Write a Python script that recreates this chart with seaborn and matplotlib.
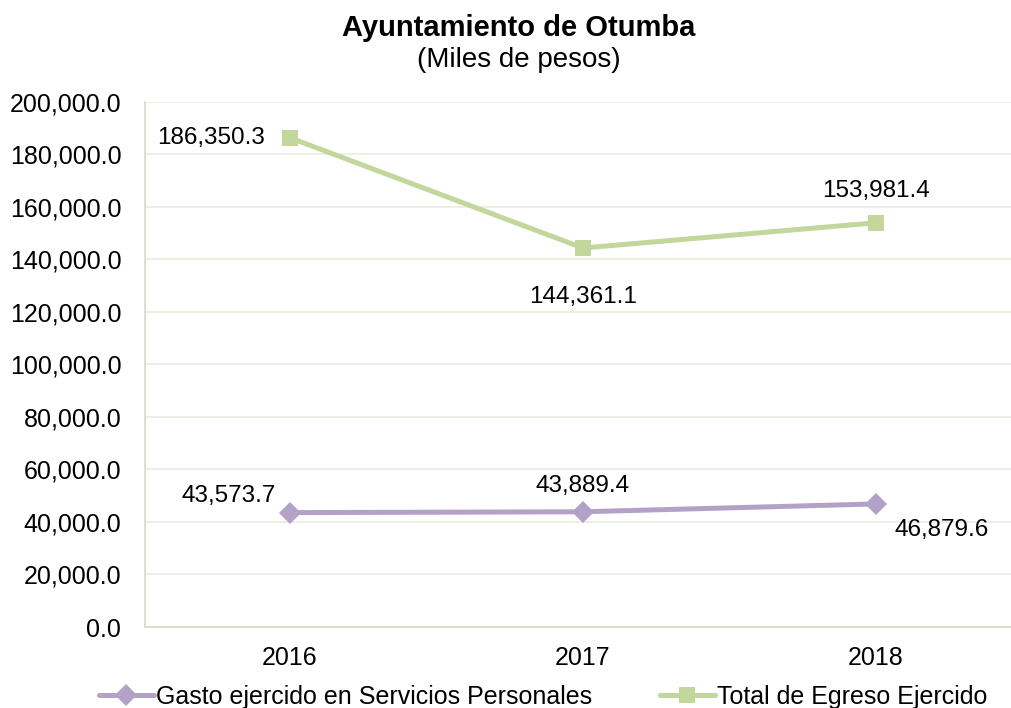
import matplotlib
matplotlib.use("Agg")
import matplotlib.pyplot as plt
import seaborn as sns
import pandas as pd
from matplotlib.ticker import FuncFormatter

years = ["2016", "2017", "2018"]
gasto = [43573.7, 43889.4, 46879.6]
total = [186350.3, 144361.1, 153981.4]
series_names = ["Gasto ejercido en Servicios Personales", "Total de Egreso Ejercido"]

sns.set_theme(style="white")
plt.rcParams['font.family'] = ['Liberation Sans', 'DejaVu Sans']
plt.rcParams['text.color'] = 'black'

fig = plt.figure(figsize=(10.11, 7.08), dpi=100)
ax = fig.add_axes([0.1434, 0.1144, 0.8566, 0.7416])

purple = "#b3a2c7"
green = "#c3d69b"

df = pd.DataFrame({"Año": years * 2,
                   "Valor": gasto + total,
                   "Serie": [series_names[0]] * 3 + [series_names[1]] * 3})

sns.lineplot(data=df[df["Serie"] == series_names[0]], x="Año", y="Valor", ax=ax,
             color=purple, lw=3.6, marker="D", markersize=11, markeredgewidth=0,
             label=series_names[0], sort=False)
sns.lineplot(data=df[df["Serie"] == series_names[1]], x="Año", y="Valor", ax=ax,
             color=green, lw=3.6, marker="s", markersize=12, markeredgewidth=0,
             label=series_names[1], sort=False)

ax.set_ylim(0, 200000)
ax.set_yticks(range(0, 200001, 20000))
ax.yaxis.set_major_formatter(FuncFormatter(lambda v, p: f"{v:,.1f}"))
ax.set_xlim(-0.495, 2.461)
ax.grid(axis="y", color="#ecebdf", lw=1.2)
ax.set_axisbelow(True)
for s in ["top", "right"]:
    ax.spines[s].set_visible(False)
for s in ["left", "bottom"]:
    ax.spines[s].set_color("#d9d9cc")
    ax.spines[s].set_linewidth(1.2)
ax.tick_params(axis="both", labelsize=18, colors="black", length=0)
ax.tick_params(axis="y", pad=17)
ax.tick_params(axis="x", pad=14)
ax.set_xlabel("")
ax.set_ylabel("")

fmt = lambda v: f"{v:,.1f}"
fs = 17.5
kw = dict(textcoords="offset pixels", fontsize=fs, va="center")
# total labels
ax.annotate(fmt(total[0]), (0, total[0]), xytext=(-25, 0), ha="right", **kw)
ax.annotate(fmt(total[1]), (1, total[1]), xytext=(0, -49), ha="center", **kw)
ax.annotate(fmt(total[2]), (2, total[2]), xytext=(0, 32), ha="center", **kw)
# gasto labels
ax.annotate(fmt(gasto[0]), (0, gasto[0]), xytext=(-61, 17), ha="center", **kw)
ax.annotate(fmt(gasto[1]), (1, gasto[1]), xytext=(0, 26), ha="center", **kw)
ax.annotate(fmt(gasto[2]), (2, gasto[2]), xytext=(19, -26), ha="left", **kw)

fig.text(0.513, 1 - 28 / 708, "Ayuntamiento de Otumba", ha="center", va="center",
         fontsize=21, fontweight="bold")
fig.text(0.513, 1 - 60 / 708, "(Miles de pesos)", ha="center", va="center", fontsize=20)

leg = ax.legend(loc="center", bbox_to_anchor=(0.46, -0.133), ncol=2, frameon=False,
                fontsize=18, handlelength=2.2, handletextpad=0.1, columnspacing=2.7,
                borderaxespad=0)

fig.savefig("out.png", dpi=100)
